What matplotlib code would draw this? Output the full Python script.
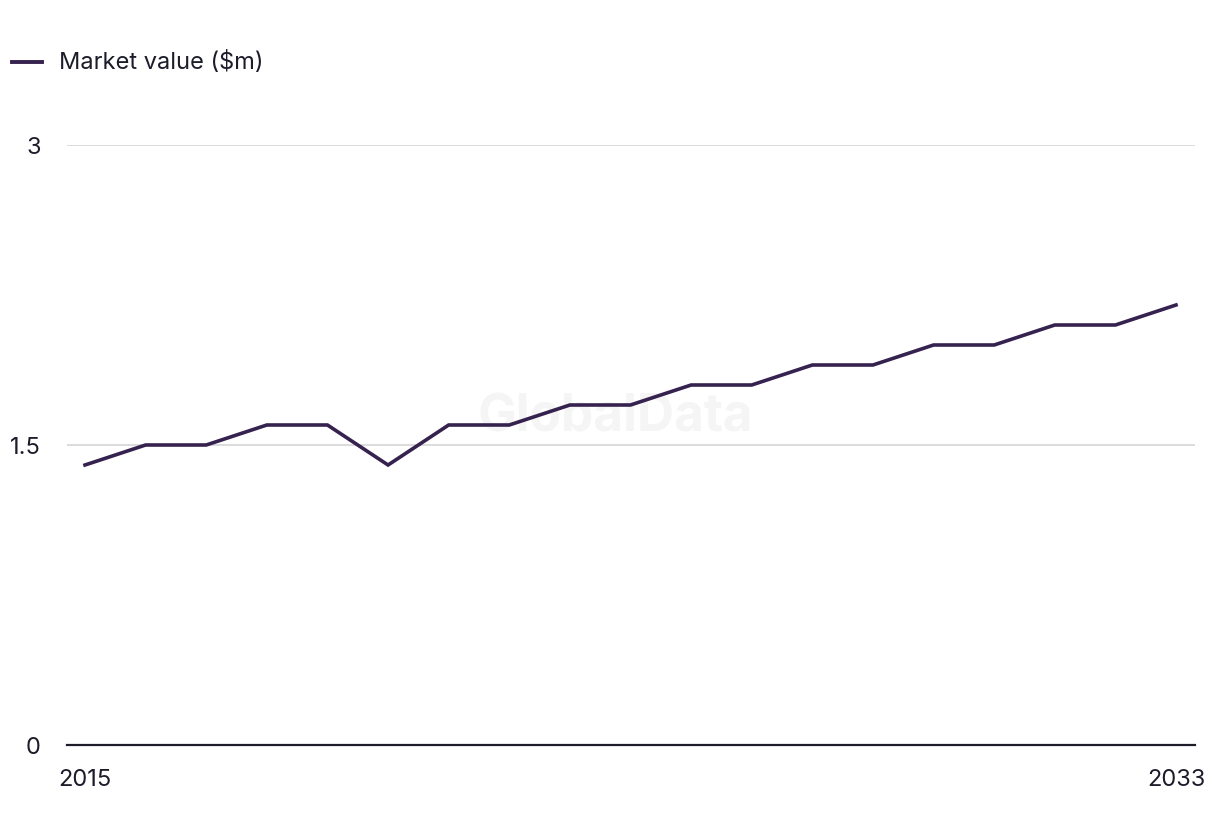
import matplotlib
matplotlib.use("Agg")
import matplotlib.pyplot as plt

years = list(range(2015, 2034))
market_value = [1.4, 1.5, 1.5, 1.6, 1.6, 1.4, 1.6, 1.6, 1.7, 1.7,
                1.8, 1.8, 1.9, 1.9, 2.0, 2.0, 2.1, 2.1, 2.2]
y_ticks = [0, 1.5, 3]
y_tick_labels = ["0", "1.5", "3"]
x_ticks = [2015, 2033]
series_label = "Market value ($m)"

plt.rcParams['font.family'] = ['Inter', 'DejaVu Sans']
W, H = 1220, 836
fig = plt.figure(figsize=(W / 100, H / 100), dpi=100)
ax = fig.add_axes([67 / W, 1 - 745 / H, (1195 - 67) / W, (745 - 145) / H])

line_color = "#36224f"
text_color = "#1c1c2b"

ax.plot(years, market_value, color=line_color, lw=2.6, solid_joinstyle="miter", zorder=3)

ax.set_ylim(0, 3)
ax.set_xlim(2015 - 18 / 60.61, 2033 + 19 / 60.61)
ax.set_yticks(y_ticks)
ax.set_yticklabels(y_tick_labels)
ax.set_xticks(x_ticks)
ax.set_xticklabels([str(x) for x in x_ticks])

ax.grid(axis="y", color="#d9d9d9", lw=1.3, zorder=0)
ax.grid(axis="x", visible=False)
for s in ["top", "right", "left"]:
    ax.spines[s].set_visible(False)
ax.spines["bottom"].set_color(text_color)
ax.spines["bottom"].set_linewidth(1.6)
ax.tick_params(axis="both", length=0, labelsize=17, colors=text_color)
ax.tick_params(axis="y", pad=19)
ax.tick_params(axis="x", pad=17)

# watermark
ax.text(0.486, 0.545, "GlobalData", transform=ax.transAxes, fontsize=37,
        fontweight="bold", color="#f5f5f5", ha="center", va="center", zorder=1)

# legend
fig.add_artist(plt.Line2D([12 / W, 42 / W], [1 - 62 / H, 1 - 62 / H],
                          color=line_color, lw=2.8))
fig.text(59 / W, 1 - 62 / H, series_label, fontsize=17, color=text_color,
         ha="left", va="center")

fig.savefig("out.png", dpi=100, facecolor="white")
